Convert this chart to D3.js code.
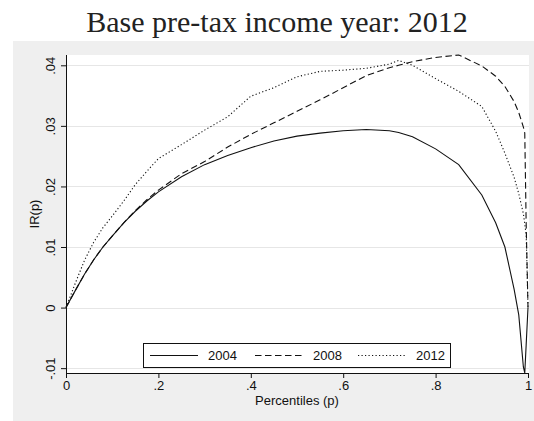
<!DOCTYPE html>
<html>
<head>
<meta charset="utf-8">
<script src="https://cdn.jsdelivr.net/npm/d3@7"></script>
<style>
  html, body { margin: 0; padding: 0; background: #ffffff; }
  svg { display: block; }
</style>
</head>
<body>
<svg id="chart" width="534" height="421"></svg>
<script>
// Percentile grid shared by all three curves
const percentiles = [0, 0.02, 0.04, 0.06, 0.08, 0.10, 0.125, 0.15, 0.175, 0.20, 0.25, 0.30, 0.35,
  0.40, 0.45, 0.50, 0.55, 0.60, 0.65, 0.70, 0.72, 0.75, 0.80, 0.85, 0.90, 0.93, 0.95,
  0.97, 0.98, 0.99, 0.993, 0.996, 1];

// IR(p) for each year
const ir2004 = [0, 0.0028, 0.0055, 0.0079, 0.0100, 0.0118, 0.0140, 0.0159, 0.0176, 0.0191, 0.0216, 0.0236, 0.0251,
  0.0264, 0.0275, 0.0283, 0.0288, 0.0292, 0.0294, 0.0292, 0.0289, 0.0282, 0.0262, 0.0236, 0.0186, 0.0140, 0.0100,
  0.0030, -0.0012, -0.0098, -0.0108, -0.0062, 0];
const ir2008 = [0, 0.0028, 0.0055, 0.0079, 0.0100, 0.0118, 0.0140, 0.0160, 0.0178, 0.0194, 0.0221, 0.0241, 0.0265,
  0.0286, 0.0305, 0.0324, 0.0343, 0.0363, 0.0383, 0.0396, 0.0400, 0.0406, 0.0413, 0.0417, 0.0399, 0.0382, 0.0365,
  0.0340, 0.0322, 0.0298, 0.0288, 0.0140, 0];
const ir2012 = [0, 0.0040, 0.0078, 0.0108, 0.0132, 0.0151, 0.0176, 0.0203, 0.0225, 0.0246, 0.0269, 0.0293, 0.0315,
  0.0349, 0.0363, 0.0381, 0.0390, 0.0392, 0.0395, 0.0402, 0.0408, 0.0400, 0.0378, 0.0357, 0.0332, 0.0291, 0.0255,
  0.0215, 0.0188, 0.0155, 0.0138, 0.0120, 0];

const seriesNames = ["2004", "2008", "2012"];
const seriesValues = [ir2004, ir2008, ir2012];
const seriesDash = ["none", "6.5,3.5", "1.2,2.3"];

const xTicks = [0, 0.2, 0.4, 0.6, 0.8, 1];
const xTickLabels = ["0", ".2", ".4", ".6", ".8", "1"];
const yTicks = [-0.01, 0, 0.01, 0.02, 0.03, 0.04];
const yTickLabels = ["-.01", "0", ".01", ".02", ".03", ".04"];

const titleText = "Base pre-tax income year: 2012";
const xTitle = "Percentiles (p)";
const yTitle = "IR(p)";

const svg = d3.select("#chart");
const sans = "'Liberation Sans', Arial, Helvetica, sans-serif";

// Graph region (light grey) and plot region (white)
svg.append("rect").attr("x", 13).attr("y", 41).attr("width", 521).attr("height", 380).attr("fill", "#efefef");

const plotL = 66, plotR = 529, plotT = 55, plotB = 373;
svg.append("rect").attr("x", plotL).attr("y", plotT)
  .attr("width", plotR - plotL).attr("height", plotB - plotT).attr("fill", "#ffffff");

const x = d3.scaleLinear().domain([0, 1]).range([66, 528]);
const y = d3.scaleLinear().domain([d3.min(seriesValues.flat()), d3.max(seriesValues.flat())]).range([plotB, plotT]);

// Horizontal grid lines
svg.append("g").selectAll("line").data(yTicks).join("line")
  .attr("x1", plotL).attr("x2", plotR)
  .attr("y1", d => Math.round(y(d)) + 0.5).attr("y2", d => Math.round(y(d)) + 0.5)
  .attr("stroke", "#e6e6e6").attr("stroke-width", 1);

// Curves
const line = d3.line().x((d, i) => x(percentiles[i])).y(d => y(d));
svg.append("g").selectAll("path").data(seriesValues).join("path")
  .attr("d", d => line(d))
  .attr("fill", "none")
  .attr("stroke", "#111")
  .attr("stroke-width", 1.1)
  .attr("stroke-dasharray", (d, i) => seriesDash[i]);

// Y axis
const yAxis = d3.axisLeft(y).tickValues(yTicks).tickSize(5).tickPadding(4)
  .tickFormat((d, i) => yTickLabels[i]);
const gy = svg.append("g").attr("transform", `translate(${plotL},0)`).call(yAxis);
gy.select(".domain").attr("d", `M0.5,${plotT}V${plotB}`).attr("stroke", "#111");
gy.selectAll(".tick line").attr("stroke", "#111");
gy.selectAll(".tick text")
  .attr("font-family", sans).attr("font-size", 13).attr("fill", "#111")
  .attr("transform", "rotate(-90)")
  .attr("x", 0).attr("y", -11).attr("dy", 0)
  .attr("text-anchor", "middle");

// X axis
const xAxis = d3.axisBottom(x).tickValues(xTicks).tickSize(5).tickPadding(3)
  .tickFormat((d, i) => xTickLabels[i]);
const gx = svg.append("g").attr("transform", `translate(0,${plotB})`).call(xAxis);
gx.select(".domain").attr("d", `M${plotL},0.5H${x(1) + 1}`).attr("stroke", "#111");
gx.selectAll(".tick line").attr("stroke", "#111");
gx.selectAll(".tick text")
  .attr("font-family", sans).attr("font-size", 13).attr("fill", "#111");

// Axis titles
svg.append("text").attr("x", (plotL + x(1)) / 2).attr("y", 405)
  .attr("text-anchor", "middle").attr("font-family", sans).attr("font-size", 13).attr("fill", "#111")
  .text(xTitle);
svg.append("text").attr("transform", `translate(39,${(plotT + plotB) / 2}) rotate(-90)`)
  .attr("text-anchor", "middle").attr("font-family", sans).attr("font-size", 13).attr("fill", "#111")
  .text(yTitle);

// Title
svg.append("text").attr("x", 277).attr("y", 32)
  .attr("text-anchor", "middle")
  .attr("font-family", "'Liberation Serif', 'Times New Roman', serif")
  .attr("font-size", 30).attr("fill", "#222")
  .text(titleText);

// Legend
const legend = svg.append("g");
legend.append("rect").attr("x", 143.5).attr("y", 343.5).attr("width", 307).attr("height", 24)
  .attr("fill", "#ffffff").attr("stroke", "#111").attr("stroke-width", 1);
const legendX = [150, 255, 358];
seriesNames.forEach((name, i) => {
  legend.append("line")
    .attr("x1", legendX[i]).attr("x2", legendX[i] + 48)
    .attr("y1", 355.5).attr("y2", 355.5)
    .attr("stroke", "#111").attr("stroke-width", 1.1)
    .attr("stroke-dasharray", seriesDash[i]);
  legend.append("text")
    .attr("x", legendX[i] + 58).attr("y", 360)
    .attr("font-family", sans).attr("font-size", 13).attr("fill", "#111")
    .text(name);
});
</script>
</body>
</html>
